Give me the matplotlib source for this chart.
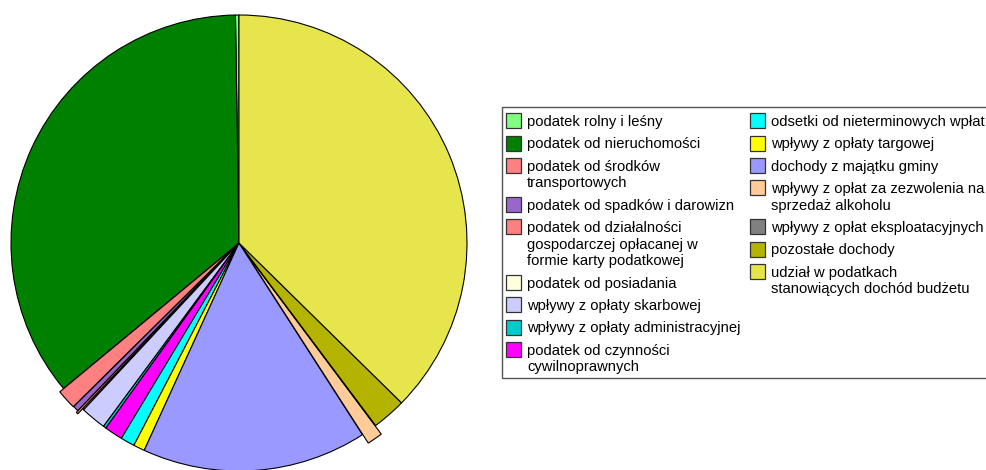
import matplotlib
matplotlib.use("Agg")
import matplotlib.pyplot as plt
from matplotlib.patches import Rectangle

plt.rcParams['font.family'] = ['Liberation Sans', 'DejaVu Sans']

labels = [
    "podatek rolny i leśny",
    "podatek od nieruchomości",
    "podatek od środków\ntransportowych",
    "podatek od spadków i darowizn",
    "podatek od działalności\ngospodarczej opłacanej w\nformie karty podatkowej",
    "podatek od posiadania",
    "wpływy z opłaty skarbowej",
    "wpływy z opłaty administracyjnej",
    "podatek od czynności\ncywilnoprawnych",
    "odsetki od nieterminowych wpłat",
    "wpływy z opłaty targowej",
    "dochody z majątku gminy",
    "wpływy z opłat za zezwolenia na\nsprzedaż alkoholu",
    "wpływy z opłat eksploatacyjnych",
    "pozostałe dochody",
    "udział w podatkach\nstanowiących dochód budżetu",
]
values = [0.25, 35.7, 1.4, 0.4, 0.15, 0.1, 1.8, 0.2, 1.3, 1.0, 0.8, 15.9, 1.1, 0.02, 2.4, 37.3]
colors = ["#80FF80", "#008000", "#FF8080", "#9966CC", "#FF8080", "#FFFFE0",
          "#CCCCFF", "#00CCCC", "#FF00FF", "#00FFFF", "#FFFF00", "#9999FF",
          "#FFCC99", "#808080", "#B3B300", "#E6E64C"]
explode = [0, 0, 0.022, 0.02, 0.03, 0, 0, 0, 0, 0, 0, 0, 0.045, 0, 0, 0]

W, H = 987, 470
fig = plt.figure(figsize=(W / 100, H / 100), dpi=100)
cx, cy, r = 239, 243, 228
ax = fig.add_axes([(cx - r) / W, (H - cy - r) / H, 2 * r / W, 2 * r / H])
wedges, _ = ax.pie(values, colors=colors, startangle=90, counterclock=True,
                   explode=explode, radius=1,
                   wedgeprops=dict(edgecolor="black", linewidth=0.8))
for w in wedges:
    w.set_clip_on(False)
ax.set_xlim(-1, 1)
ax.set_ylim(-1, 1)
ax.set_aspect('equal')
ax.axis('off')


def fx(px):
    return px / W


def fy(py):
    return 1 - py / H


# legend frame (extends past the right edge like the reference)
frame_left, frame_top, frame_bottom = 502, 107, 377.5
fig.add_artist(Rectangle((fx(frame_left), fy(frame_bottom)),
                         fx(1010 - frame_left), (frame_bottom - frame_top) / H,
                         transform=fig.transFigure, facecolor="white",
                         edgecolor="#555555", linewidth=1.0, zorder=1))

col_split = 9
col_x = [506, 750]
text_dx = 21
row_step = 22.3
line_step = 16.7
box = 15
fs = 10.6

for c, (start, stop) in enumerate([(0, col_split), (col_split, len(labels))]):
    top = 113.3
    for i in range(start, stop):
        lines = labels[i].split("\n")
        x0 = col_x[c]
        fig.add_artist(Rectangle((fx(x0), fy(top + box)), box / W, box / H,
                                 transform=fig.transFigure,
                                 facecolor=colors[i], edgecolor="#333333",
                                 linewidth=0.9, zorder=2))
        center = top + box / 2
        for k, ln in enumerate(lines):
            fig.text(fx(x0 + text_dx), fy(center + 5.3 + k * line_step), ln,
                     fontsize=fs, va='baseline', ha='left', color='black',
                     zorder=3)
        top += row_step + line_step * (len(lines) - 1)

fig.savefig("out.png", dpi=100)
